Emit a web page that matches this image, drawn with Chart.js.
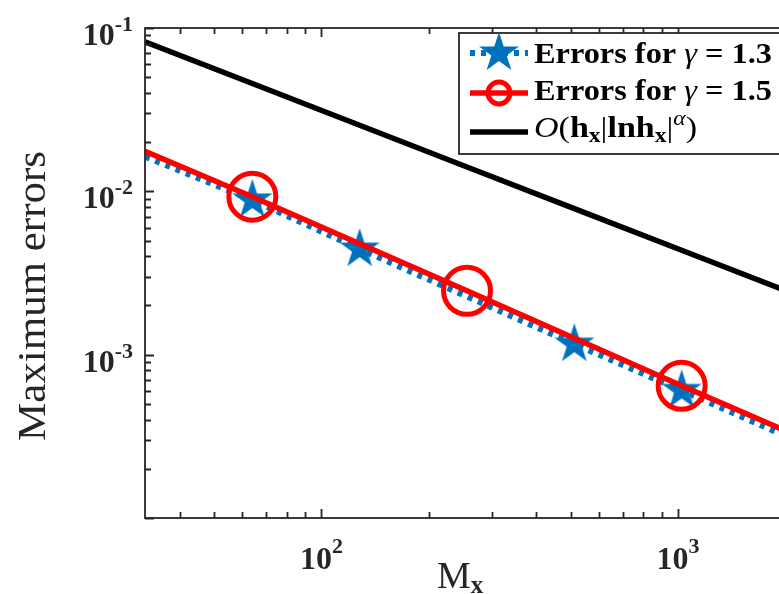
<!DOCTYPE html>
<html>
<head>
<meta charset="utf-8">
<script src="https://cdn.jsdelivr.net/npm/chart.js@4.4.0/dist/chart.umd.min.js"></script>
<style>
  html, body { margin: 0; padding: 0; background: #fff; overflow: hidden; width: 779px; height: 594px; }
  #wrap { position: relative; width: 800px; height: 594px; }
</style>
</head>
<body>
<div id="wrap"><canvas id="chart" width="800" height="594"></canvas></div>
<script>
// ── Data ──
const meshSizes  = [32, 64, 128, 256, 512, 1024, 2048];
const errGamma13 = [0.0163, 0.00885, 0.00443, 0.00227, 0.00116, 0.000604, 0.000311];
const errGamma15 = [0.0176, 0.00927, 0.00478, 0.00246, 0.00126, 0.000645, 0.000335];
const refOrder   = [0.0824, 0.0457, 0.0254, 0.0141, 0.00783, 0.00436, 0.00242];
const starShown   = [false, true, true, false, true, true, false];
const circleShown = [false, true, false, true, false, true, false];
const xTickExps = [2, 3];
const yTickExps = [-1, -2, -3];
const seriesLabels = ['Errors for γ = 1.3', 'Errors for γ = 1.5', 'O(hx|lnhx|α)'];

const BLUE = '#0072BD', RED = '#FF0000', BLACK = '#000000', AXIS = '#262626';
const SERIF = '"Liberation Serif", "Times New Roman", serif';

// filled pentagram used as point style
function makeStar(R, color) {
  const s = Math.ceil(2 * R + 2);
  const c = document.createElement('canvas');
  c.width = c.height = s;
  const g = c.getContext('2d');
  g.translate(s / 2, s / 2);
  g.beginPath();
  for (let i = 0; i < 10; i++) {
    const r = i % 2 ? R * 0.382 : R;
    const a = -Math.PI / 2 + i * Math.PI / 5;
    g.lineTo(r * Math.cos(a), r * Math.sin(a));
  }
  g.closePath();
  g.fillStyle = color;
  g.fill();
  return c;
}
const starImg = makeStar(21, BLUE);

function pts(ys) { return meshSizes.map((x, i) => ({ x, y: ys[i] })); }

function logTicks(min, max) {
  const out = [];
  for (let k = Math.floor(Math.log10(min)); k <= Math.ceil(Math.log10(max)); k++) {
    for (let m = 1; m <= 9; m++) {
      const v = m * Math.pow(10, k);
      if (v >= min * 0.999 && v <= max * 1.001) out.push({ v, major: m === 1 });
    }
  }
  return out;
}

// ── rich text helpers (sub/superscripts, mixed fonts) ──
function richWidth(ctx, segs) {
  return segs.reduce((s, g) => { ctx.font = g.font; return s + ctx.measureText(g.t).width; }, 0);
}
function drawRich(ctx, segs, x, base, targetW) {
  const w = richWidth(ctx, segs);
  const sx = targetW ? targetW / w : 1;
  ctx.save();
  ctx.translate(x, base);
  ctx.scale(sx, 1);
  ctx.textAlign = 'left';
  ctx.textBaseline = 'alphabetic';
  let cx = 0;
  segs.forEach(g => {
    ctx.font = g.font;
    ctx.fillText(g.t, cx, g.dy || 0);
    cx += ctx.measureText(g.t).width;
  });
  ctx.restore();
}

const B = 'bold 29px ' + SERIF, I = 'italic 29px ' + SERIF, N = '29px ' + SERIF;
const SUB = 'bold 20px ' + SERIF;
const legendRows = [
  [{ t: 'Errors for ', font: B }, { t: 'γ', font: I }, { t: ' = 1.3', font: B }],
  [{ t: 'Errors for ', font: B }, { t: 'γ', font: I }, { t: ' = 1.5', font: B }],
  [{ t: 'O', font: I }, { t: '(', font: N }, { t: 'h', font: B },
   { t: 'x', font: SUB, dy: 5 }, { t: '|', font: N }, { t: 'lnh', font: B },
   { t: 'x', font: SUB, dy: 5 }, { t: '|', font: N },
   { t: 'α', font: 'italic 20px ' + SERIF, dy: -12 }, { t: ')', font: N }]
];
const legendWidths = [238, 238, 163];

// ── axes box, inward ticks, tick labels, titles, legend ──
const decorations = {
  id: 'decorations',
  afterDatasetsDraw(chart) {
    const { ctx, chartArea: a, scales: { x, y } } = chart;
    ctx.save();
    ctx.strokeStyle = AXIS;
    ctx.lineWidth = 1.8;
    ctx.strokeRect(a.left, a.top, a.right - a.left, a.bottom - a.top);

    ctx.beginPath();
    logTicks(x.min, x.max).forEach(t => {
      const px = Math.round(x.getPixelForValue(t.v)) + 0.5, len = t.major ? 9 : 6;
      ctx.moveTo(px, a.bottom); ctx.lineTo(px, a.bottom - len);
      ctx.moveTo(px, a.top); ctx.lineTo(px, a.top + len);
    });
    logTicks(y.min, y.max).forEach(t => {
      const py = Math.round(y.getPixelForValue(t.v)) + 0.5, len = t.major ? 9 : 6;
      ctx.moveTo(a.left, py); ctx.lineTo(a.left + len, py);
      ctx.moveTo(a.right, py); ctx.lineTo(a.right - len, py);
    });
    ctx.stroke();

    ctx.fillStyle = AXIS;
    const big = 'bold 32px ' + SERIF, sup = 'bold 22px ' + SERIF;
    xTickExps.forEach(e => {
      const px = x.getPixelForValue(Math.pow(10, e));
      const segs = [{ t: '10', font: big }, { t: String(e), font: sup, dy: -16 }];
      drawRich(ctx, segs, px - richWidth(ctx, segs) / 2, 569);
    });
    yTickExps.forEach(e => {
      const py = y.getPixelForValue(Math.pow(10, e));
      const segs = [{ t: '10', font: big }, { t: String(e), font: sup, dy: -14 }];
      drawRich(ctx, segs, 133 - richWidth(ctx, segs), py + 17);
    });

    // axis titles
    ctx.fillStyle = AXIS;
    drawRich(ctx, [{ t: 'M', font: '38px ' + SERIF }, { t: 'x', font: 'bold 25px ' + SERIF, dy: 5 }], 437, 588);
    ctx.save();
    ctx.translate(45, 296);
    ctx.rotate(-Math.PI / 2);
    ctx.font = '40px ' + SERIF;
    const tw = ctx.measureText('Maximum errors').width;
    ctx.scale(290 / tw, 1);
    ctx.textAlign = 'center';
    ctx.fillText('Maximum errors', 0, 0);
    ctx.restore();

    // legend
    const L = { left: 459, top: 33, right: 792, bottom: 154 };
    ctx.fillStyle = '#fff';
    ctx.fillRect(L.left, L.top, L.right - L.left, L.bottom - L.top);
    ctx.strokeStyle = AXIS;
    ctx.lineWidth = 1.8;
    ctx.strokeRect(L.left, L.top, L.right - L.left, L.bottom - L.top);
    const rowY = [53, 93, 132], x0 = 470, x1 = 528, xm = (x0 + x1) / 2;
    const sets = chart.data.datasets;
    rowY.forEach((ry, i) => {
      const ds = sets[i];
      ctx.save();
      ctx.strokeStyle = ds.borderColor;
      ctx.lineWidth = ds.borderWidth;
      ctx.setLineDash(ds.borderDash || []);
      ctx.beginPath(); ctx.moveTo(x0, ry); ctx.lineTo(x1, ry); ctx.stroke();
      ctx.restore();
      if (i === 0) ctx.drawImage(starImg, xm - starImg.width / 2, ry - starImg.height / 2);
      if (i === 1) {
        ctx.save();
        ctx.strokeStyle = RED; ctx.lineWidth = 5;
        ctx.beginPath(); ctx.arc(xm, ry, 11, 0, Math.PI * 2); ctx.stroke();
        ctx.restore();
      }
      ctx.fillStyle = '#000';
      drawRich(ctx, legendRows[i], 534, [63, 100, 137][i], legendWidths[i]);
    });
    ctx.restore();
  }
};

new Chart(document.getElementById('chart').getContext('2d'), {
  type: 'line',
  data: {
    datasets: [
      {
        label: seriesLabels[0], data: pts(errGamma13),
        borderColor: BLUE, borderWidth: 6, borderDash: [5, 6], borderCapStyle: 'butt',
        pointStyle: starImg, pointRadius: c => starShown[c.dataIndex] ? 21 : 0,
        order: 3
      },
      {
        label: seriesLabels[1], data: pts(errGamma15),
        borderColor: RED, borderWidth: 5.5,
        pointStyle: 'circle', pointRadius: c => circleShown[c.dataIndex] ? 23.5 : 0,
        pointBorderWidth: 5, pointBorderColor: RED, pointBackgroundColor: 'rgba(0,0,0,0)',
        order: 2
      },
      {
        label: seriesLabels[2], data: pts(refOrder),
        borderColor: BLACK, borderWidth: 5.5, pointRadius: 0,
        order: 1
      }
    ]
  },
  options: {
    responsive: false,
    animation: false,
    devicePixelRatio: 1,
    events: [],
    layout: { padding: { left: 145, top: 28, right: 11, bottom: 76 } },
    plugins: { legend: { display: false }, tooltip: { enabled: false } },
    scales: {
      x: {
        type: 'logarithmic', min: 32, max: 2048,
        grid: { display: false, drawTicks: false }, border: { display: false },
        ticks: { display: false },
        afterFit: s => { s.height = 0; }
      },
      y: {
        type: 'logarithmic', min: 1e-4, max: 1e-1,
        grid: { display: false, drawTicks: false }, border: { display: false },
        ticks: { display: false },
        afterFit: s => { s.width = 0; }
      }
    }
  },
  plugins: [decorations]
});
</script>
</body>
</html>
